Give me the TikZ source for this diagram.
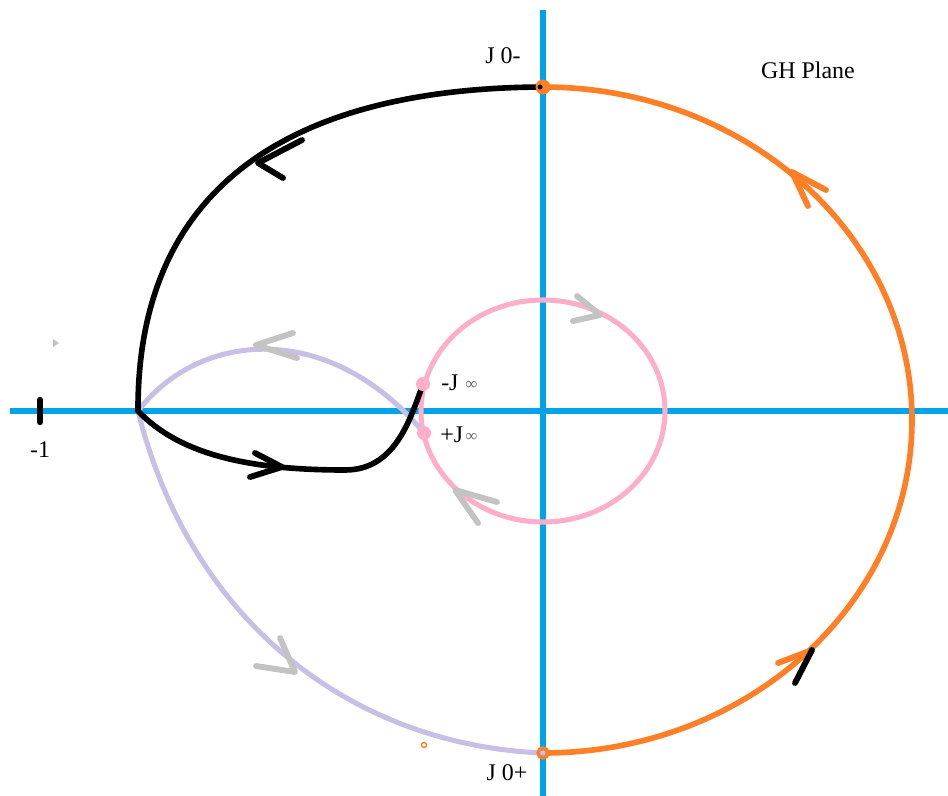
\documentclass[tikz,border=0pt]{standalone}
\usepackage{fontspec}
\setmainfont{Liberation Serif}
\definecolor{axisblue}{RGB}{0,162,232}
\definecolor{paintorange}{RGB}{255,127,39}
\definecolor{paintpink}{RGB}{255,174,201}
\definecolor{paintlav}{RGB}{200,191,231}
\definecolor{paintgray}{RGB}{195,195,195}
\definecolor{infgray}{RGB}{110,110,110}
\tikzset{
  axis/.style={axisblue, line width=4.4pt},
  blackcurve/.style={black, line width=4pt, line cap=round, line join=round},
  orangecurve/.style={paintorange, line width=4pt},
  pinkcurve/.style={paintpink, line width=3.6pt},
  lavcurve/.style={paintlav, line width=3.6pt, line cap=round},
  chevron/.style={line width=4.2pt, line cap=round, line join=round},
  lbl/.style={font=\fontsize{17}{17}\selectfont, inner sep=0pt},
  inf/.style={font=\fontsize{12}{12}\selectfont, text=infgray, inner sep=0pt}
}
\begin{document}
\begin{tikzpicture}[x=0.025cm, y=-0.025cm]
\useasboundingbox (0,0) rectangle (948,796);
% axes
\coordinate (xl) at (10,411);
\coordinate (xr) at (948,411);
\coordinate (yt) at (543,10);
\coordinate (yb) at (543,796);
\draw[axis] (xl) -- (xr);
\draw[axis] (yt) -- (yb);
% key points
\coordinate (J0m) at (543,87);
\coordinate (J0p) at (543,753);
\coordinate (P) at (138,411);
\coordinate (Jm) at (423,384);
\coordinate (Jp) at (424,433);
% pink circle
\draw[pinkcurve] (543,411) ellipse [x radius=122, y radius=111];
% orange half ellipse
\draw[orangecurve] (J0m) arc[start angle=-90, end angle=90, x radius=369, y radius=333];
% lavender curves
\draw[lavcurve] (P) .. controls (200,330) and (330,320) .. (Jp);
\draw[lavcurve] (P) .. controls (190,620) and (350,745) .. (J0p);
% black curves
\draw[blackcurve] (J0m) .. controls (300,88) and (137,180) .. (P);
\draw[blackcurve] (P) .. controls (180,455) and (250,470) .. (345,470) .. controls (395,470) and (410,420) .. (Jm);
% dots
\fill[paintpink] (Jm) circle[radius=7];
\fill[paintpink] (Jp) circle[radius=7];
\fill[paintorange] (J0m) circle[radius=7.5];
\fill[black] (540,87) circle[radius=2.5];
\draw[paintorange, line width=2.4pt] (J0p) circle[radius=5];
\draw[paintorange, line width=1pt] (424,745) circle[radius=2.5];
\fill[paintgray] (53,339) -- (59,343) -- (53,347) -- cycle;
% -1 tick
\coordinate (m1a) at (40,400);
\coordinate (m1b) at (40,422);
\draw[black, line width=4.6pt, line cap=round] (m1a) -- (m1b);
% chevrons
\draw[chevron, black] (302,140) -- (258,163) -- (283,178);
\draw[chevron, black] (255,453) -- (282,467) -- (250,477);
\draw[chevron, paintorange] (826,190) -- (792,172) -- (808,206);
\draw[chevron, paintorange] (778,663) -- (812,650);
\draw[chevron, black] (812,650) -- (795,683);
\draw[chevron, paintgray] (577,296) -- (600,315) -- (573,321);
\draw[chevron, paintgray] (497,502) -- (455,490) -- (478,523);
\draw[chevron, paintgray] (293,333) -- (256,345) -- (297,358);
\draw[chevron, paintgray] (280,638) -- (295,672) -- (256,666);
% labels
\node[lbl] (lm1) at (40,450) {-1};
\node[lbl] (lj0m) at (503,56) {J 0-};
\node[lbl] (lj0p) at (507,773) {J 0+};
\node[lbl] (lgh) at (808,70) {GH Plane};
\node[lbl, anchor=west] (ljm) at (441,383) {-J};
\node[inf, anchor=west] (ljmi) at (465,385) {∞};
\node[lbl, anchor=west] (ljp) at (440,435) {+J};
\node[inf, anchor=west] (ljpi) at (465,437) {∞};
\end{tikzpicture}
\end{document}
